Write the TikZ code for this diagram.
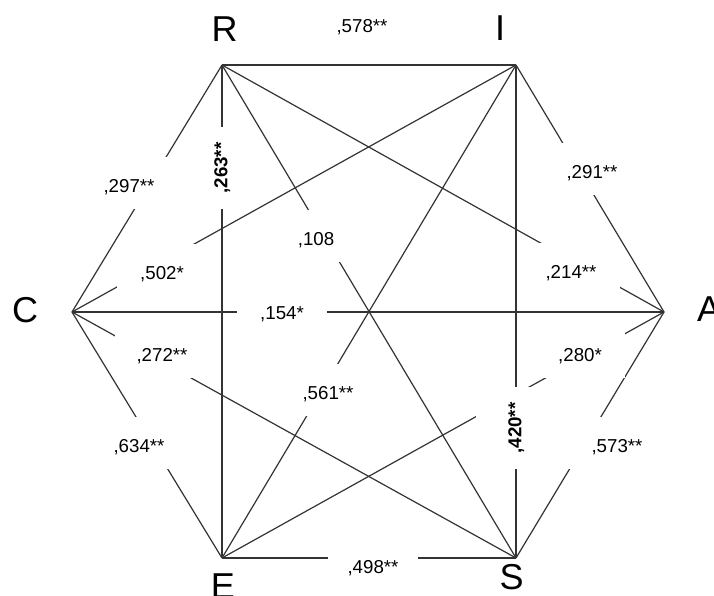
\documentclass[tikz,border=0pt]{standalone}
\usepackage{fontspec}
\setmainfont{Liberation Sans}
\begin{document}
\begin{tikzpicture}[x=1pt,y=-1pt,
  edge/.style={draw=black!80, line width=1.2pt},
  vlabel/.style={font=\fontsize{36}{40}\selectfont, inner sep=0pt, text=black},
  num/.style={fill=white, font=\fontsize{18.7}{22}\selectfont, inner xsep=23.5pt, inner ysep=0pt,
              minimum height=52pt, text height=21.5pt, text depth=2.8pt},
  vnum/.style={fill=white, rotate=90, font=\bfseries\fontsize{18.7}{22}\selectfont, inner xsep=15.5pt,
               inner ysep=0pt, minimum height=58pt, text height=13.5pt, text depth=2.8pt}]
\useasboundingbox (0,0) rectangle (714,596);
% vertices
\coordinate (R) at (222,65);
\coordinate (I) at (516,65);
\coordinate (A) at (664,312);
\coordinate (S) at (516,558);
\coordinate (E) at (222,558);
\coordinate (C) at (72,312);
% vertex letters
\node[vlabel] (lR) at (224.5,29.5) {R};
\node[vlabel] (lI) at (500,28.5) {I};
\node[vlabel] (lA) at (709,309) {A};
\node[vlabel] (lS) at (511.5,577) {S};
\node[vlabel] (lE) at (223,586) {E};
\node[vlabel] (lC) at (25,310) {C};
% edges
\draw[edge] (R) -- (I);
\draw[edge] (R) -- (A);
\draw[edge] (R) -- (S);
\draw[edge] (R) -- (E);
\draw[edge] (R) -- (C);
\draw[edge] (I) -- (A);
\draw[edge] (I) -- (S);
\draw[edge] (I) -- (E);
\draw[edge] (I) -- (C);
\draw[edge] (A) -- (S);
\draw[edge] (A) -- (E);
\draw[edge] (A) -- (C);
\draw[edge] (S) -- (E);
\draw[edge] (S) -- (C);
\draw[edge] (E) -- (C);
% coefficient labels
\node[num] (nRI) at (362,23) {,578**};
\node[num] (nRC) at (129,183) {,297**};
\node[vnum] (nRE) at (222,168) {,263**};
\node[num] (nRS) at (316,236) {,108};
\node[num] (nRA) at (571,269) {,214**};
\node[num] (nIC) at (162,270) {,502*};
\node[num] (nIE) at (328,390) {,561**};
\node[vnum, minimum height=80pt] (nIS) at (516,428) {,420**};
\node[num] (nIA) at (592,169) {,291**};
\node[num] (nCA) at (282,310) {,154*};
\node[num, inner xsep=21.5pt] (nCS) at (162,352) {,272**};
\node[num] (nCE) at (139,443) {,634**};
\node[num] (nAE) at (580,352) {,280*};
\node[num] (nAS) at (617,443) {,573**};
\node[num, inner xsep=19.5pt] (nES) at (373,564) {,498**};
\end{tikzpicture}
\end{document}
